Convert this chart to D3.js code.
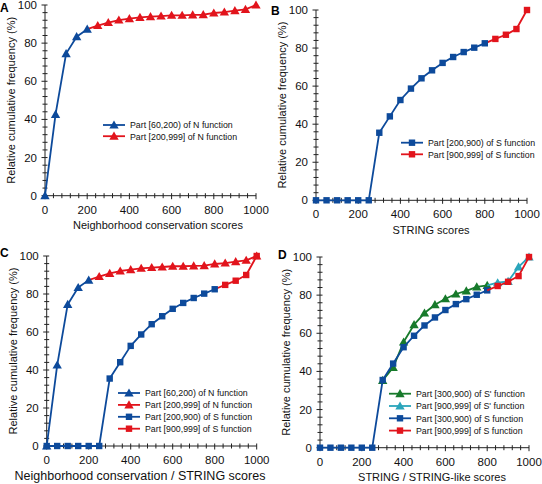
<!DOCTYPE html>
<html><head><meta charset="utf-8">
<script src="https://cdn.jsdelivr.net/npm/d3@7"></script>
<style>
html,body{margin:0;padding:0;background:#fff;}
svg{display:block;font-family:"Liberation Sans",Arial,sans-serif;}
</style></head>
<body>
<svg id="chart" width="542" height="484"></svg>
<script>
// ---- data ----
const scores = [0,50,100,150,200,250,300,350,400,450,500,550,600,650,700,750,800,850,900,950,1000];
const nFunction = [0,42.6,74.5,83.4,87.3,89.2,90.8,92.1,92.8,93.5,93.9,94.2,94.6,94.6,94.8,94.9,95.8,96.3,97.0,97.7,100];
const sFunction = [0,0,0,0,0,0,35.5,44.1,52.7,58.7,64.1,68.3,72.2,75.3,77.9,80.2,82.5,84.8,87.0,90.0,100];
const sPrimeFunction = [null,null,null,null,null,null,35.3,42.1,55.4,64.5,70.6,75.0,78.1,80.6,82.2,84.3,85.1,86.5,87.2,94.8,100];
const xTicks = [0,200,400,600,800,1000];
const yTicks = [0,20,40,60,80,100];
const panelLetters = ["A","B","C","D"];
const xTitles = ["Neighborhood conservation scores","STRING scores","Neighborhood conservation / STRING scores","STRING / STRING-like scores"];
const yTitle = "Relative cumulative frequency (%)";
const legendA = ["Part [60,200) of N function","Part [200,999] of N function"];
const legendB = ["Part [200,900) of S function","Part [900,999] of S function"];
const legendC = ["Part [60,200) of N function","Part [200,999] of N function","Part [200,900) of S function","Part [900,999] of S function"];
const legendD = ["Part [300,900) of S' function","Part [900,999] of S' function","Part [300,900) of S function","Part [900,999] of S function"];

const BLUE="#0d4a9b", RED="#e2141c", GREEN="#177a2b", CYAN="#2aa5bb";

function seg(vals, from, to, mFrom){
  const pts=[];
  for(let i=from;i<=to;i++){ if(vals[i]!=null) pts.push({x:scores[i], y:vals[i], m:i>=mFrom}); }
  return pts;
}
const nBlue = ()=>({pts:seg(nFunction,0,4,0), color:BLUE, shape:"tri"});
const nRed  = ()=>({pts:seg(nFunction,4,20,5), color:RED, shape:"tri"});
const sBlue = ()=>({pts:seg(sFunction,0,16,0), color:BLUE, shape:"sq"});
const sRed  = ()=>({pts:seg(sFunction,16,20,17), color:RED, shape:"sq"});
const spGreen=()=>({pts:seg(sPrimeFunction,6,16,6), color:GREEN, shape:"tri"});
const spCyan =()=>({pts:seg(sPrimeFunction,16,20,17), color:CYAN, shape:"tri"});

const panels = [
  {letter:0, lx:0, ly:12, px:[45,256], py:[195.7,5], series:[nRed(),nBlue()], xfs:11,
   legend:{x:103, y:125, dy:11.2, items:legendA.map((t,i)=>({t, color:[BLUE,RED][i], shape:"tri"}))}, xtc:158},
  {letter:1, lx:271, ly:15, px:[316,527], py:[200.3,10], series:[sRed(),sBlue()], xfs:11,
   legend:{x:401, y:142.7, dy:11.6, items:legendB.map((t,i)=>({t, color:[BLUE,RED][i], shape:"sq"}))}, xtc:431},
  {letter:2, lx:0, ly:257, px:[46.7,256.7], py:[446,256], series:[nRed(),nBlue(),sRed(),sBlue()], xfs:12.5,
   legend:{x:118, y:393, dy:11.9, items:legendC.map((t,i)=>({t, color:[BLUE,RED,BLUE,RED][i], shape:["tri","tri","sq","sq"][i]}))}, xtc:140},
  {letter:3, lx:278, ly:259, px:[320,529], py:[447.7,257], series:[spGreen(),spCyan(),sBlue(),sRed()], xfs:11,
   legend:{x:389, y:393.7, dy:12.3, items:legendD.map((t,i)=>({t, color:[GREEN,CYAN,BLUE,RED][i], shape:["tri","tri","sq","sq"][i]}))}, xtc:432}
];

const svg = d3.select("#chart");

function marker(g, shape, color, cx, cy){
  if(shape==="tri"){
    g.append("path").attr("d", d3.symbol(d3.symbolTriangle, 38)())
      .attr("transform",`translate(${cx},${cy+0.8})`).attr("fill",color);
  } else {
    g.append("rect").attr("x",cx-3.2).attr("y",cy-3.2).attr("width",6.4).attr("height",6.4).attr("fill",color);
  }
}

panels.forEach(p=>{
  const g = svg.append("g");
  const x = d3.scaleLinear().domain([0,1000]).range(p.px);
  const y = d3.scaleLinear().domain([0,100]).range(p.py);
  // axes lines
  const ax = g.append("g").attr("stroke","#222").attr("stroke-width",1);
  ax.append("line").attr("x1",x(0)).attr("x2",x(1000)).attr("y1",y(0)).attr("y2",y(0));
  ax.append("line").attr("x1",x(0)).attr("x2",x(0)).attr("y1",y(0)).attr("y2",y(100));
  d3.range(0,1001,40).forEach(v=>{
    const major = v%200===0;
    ax.append("line").attr("x1",x(v)).attr("x2",x(v)).attr("y1",y(0)-2.5).attr("y2",y(0)+(major?3.5:2.5));
  });
  d3.range(0,101,4).forEach(v=>{
    const major = v%20===0;
    ax.append("line").attr("y1",y(v)).attr("y2",y(v)).attr("x1",x(0)-(major?3.5:2.5)).attr("x2",x(0)+2.5);
  });
  // tick labels
  g.append("g").selectAll("text").data(xTicks).join("text")
    .attr("x",d=>x(d)).attr("y",y(0)+18).attr("text-anchor","middle")
    .attr("font-size",11.5).attr("fill","#111").text(d=>d);
  g.append("g").selectAll("text").data(yTicks).join("text")
    .attr("x",x(0)-8).attr("y",d=>y(d)+4).attr("text-anchor","end")
    .attr("font-size",11.5).attr("fill","#111").text(d=>d);
  // titles
  g.append("text").attr("x",p.xtc).attr("y",y(0)+33.5).attr("text-anchor","middle")
    .attr("font-size",p.xfs).attr("fill","#111").text(xTitles[p.letter]);
  g.append("text").attr("transform",`translate(${x(0)-30},${(y(0)+y(100))/2}) rotate(-90)`)
    .attr("text-anchor","middle").attr("font-size",11).attr("fill","#111").text(yTitle);
  g.append("text").attr("x",p.lx).attr("y",p.ly).attr("font-size",12).attr("font-weight","bold")
    .attr("fill","#000").text(panelLetters[p.letter]);
  // series
  const line = d3.line().x(d=>x(d.x)).y(d=>y(d.y));
  p.series.forEach(s=>{
    g.append("path").datum(s.pts).attr("d",line).attr("fill","none")
      .attr("stroke",s.color).attr("stroke-width",1.8).attr("stroke-linejoin","round");
    s.pts.filter(d=>d.m).forEach(d=>marker(g,s.shape,s.color,x(d.x),y(d.y)));
  });
  // legend
  const L = p.legend;
  L.items.forEach((it,i)=>{
    const ly = L.y + i*L.dy;
    g.append("line").attr("x1",L.x).attr("x2",L.x+22).attr("y1",ly).attr("y2",ly)
      .attr("stroke",it.color).attr("stroke-width",1.8);
    marker(g,it.shape,it.color,L.x+11,ly);
    g.append("text").attr("x",L.x+27).attr("y",ly+3.3).attr("font-size",8.8).attr("fill","#111").text(it.t);
  });
});
</script>
</body></html>
